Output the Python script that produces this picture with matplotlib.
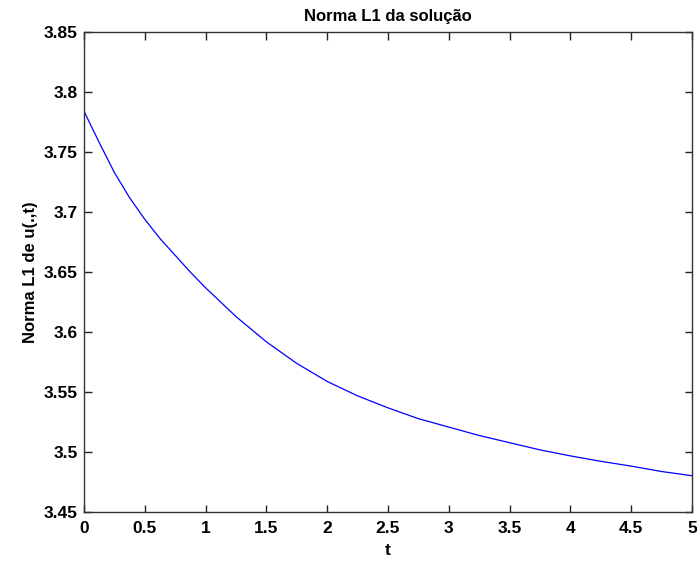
import matplotlib
matplotlib.use('Agg')
import matplotlib.pyplot as plt

# values
t = [0.0, 0.125, 0.25, 0.375, 0.5, 0.625, 0.75, 0.875, 1.0, 1.25, 1.5,
     1.75, 2.0, 2.25, 2.5, 2.75, 3.0, 3.25, 3.5, 3.75, 4.0, 4.25, 4.5,
     4.75, 5.0]
norma = [3.784, 3.758, 3.733, 3.712, 3.694, 3.678, 3.664, 3.650, 3.637,
         3.613, 3.592, 3.574, 3.559, 3.547, 3.537, 3.528, 3.521, 3.514,
         3.508, 3.502, 3.497, 3.4925, 3.4885, 3.484, 3.4805]

xticks = [0, 0.5, 1, 1.5, 2, 2.5, 3, 3.5, 4, 4.5, 5]
xticklabels = ['0', '0.5', '1', '1.5', '2', '2.5', '3', '3.5', '4', '4.5', '5']
yticks = [3.45, 3.5, 3.55, 3.6, 3.65, 3.7, 3.75, 3.8, 3.85]
yticklabels = ['3.45', '3.5', '3.55', '3.6', '3.65', '3.7', '3.75', '3.8', '3.85']

plt.rcParams['font.family'] = ['Liberation Sans', 'DejaVu Sans']

fig = plt.figure(figsize=(6.97, 5.65), dpi=100)
ax = fig.add_axes([0.1205, 0.0932, 0.8723, 0.8502])

ax.plot(t, norma, color='#0000ff', linewidth=0.9)

ax.set_xlim(0, 5)
ax.set_ylim(3.45, 3.85)
ax.set_xticks(xticks)
ax.set_xticklabels(xticklabels, fontsize=12.5, fontweight='bold')
ax.set_yticks(yticks)
ax.set_yticklabels(yticklabels, fontsize=12.5, fontweight='bold')
ax.tick_params(direction='in', length=5.4, width=1, top=True, right=True,
               color='#222222')
ax.tick_params(axis='x', pad=6)
ax.tick_params(axis='y', pad=4.5)
for s in ax.spines.values():
    s.set_color('#333333')
    s.set_linewidth(1)

ax.set_title('Norma L1 da solução', fontsize=12, fontweight='bold', pad=8)
ax.set_xlabel('t', fontsize=12.5, fontweight='bold', labelpad=5)
ax.set_ylabel('Norma L1 de u(.,t)', fontsize=12, fontweight='bold', labelpad=4)

fig.savefig('out.png', dpi=100)
